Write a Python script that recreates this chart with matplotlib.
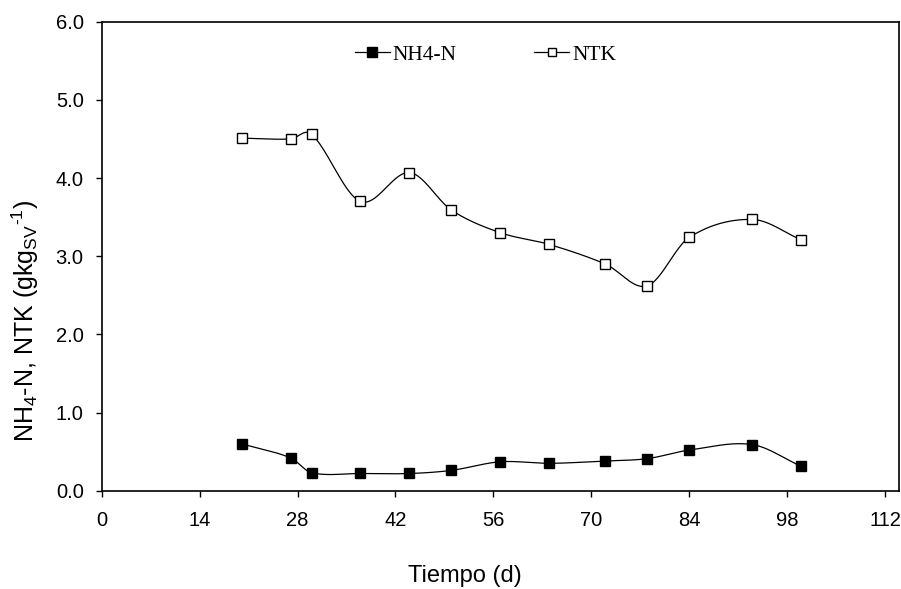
import numpy as np
import matplotlib.pyplot as plt

# Datos: tiempo de compostaje (d) y nitrógeno (g/kg SV)
tiempo = [20, 27, 30, 37, 44, 50, 57, 64, 72, 78, 84, 93, 100]
nh4_n = [0.60, 0.42, 0.23, 0.22, 0.22, 0.26, 0.37, 0.35, 0.38, 0.41, 0.52, 0.59, 0.31]
ntk = [4.51, 4.50, 4.56, 3.70, 4.07, 3.59, 3.30, 3.15, 2.90, 2.62, 3.24, 3.47, 3.21]

x_ticks = [0, 14, 28, 42, 56, 70, 84, 98, 112]
y_ticks = [0.0, 1.0, 2.0, 3.0, 4.0, 5.0, 6.0]


def curva_suave(x, y, pasos=40):
    """Spline de Catmull-Rom (Hermite) que pasa por cada punto medido."""
    x = np.asarray(x, float)
    y = np.asarray(y, float)
    m = np.empty_like(y)
    m[1:-1] = (y[2:] - y[:-2]) / (x[2:] - x[:-2])
    m[0] = (y[1] - y[0]) / (x[1] - x[0])
    m[-1] = (y[-1] - y[-2]) / (x[-1] - x[-2])
    xs, ys = [], []
    for i in range(len(x) - 1):
        h = x[i + 1] - x[i]
        t = np.linspace(0, 1, pasos)
        h00 = 2 * t**3 - 3 * t**2 + 1
        h10 = t**3 - 2 * t**2 + t
        h01 = -2 * t**3 + 3 * t**2
        h11 = t**3 - t**2
        xs.append(x[i] + t * h)
        ys.append(h00 * y[i] + h10 * h * m[i] + h01 * y[i + 1] + h11 * h * m[i + 1])
    return np.concatenate(xs), np.concatenate(ys)


plt.rcParams['font.family'] = ['Liberation Sans', 'DejaVu Sans']
plt.rcParams['mathtext.fontset'] = 'custom'
plt.rcParams['mathtext.rm'] = 'Liberation Sans'
plt.rcParams['mathtext.it'] = 'Liberation Sans'

fig = plt.figure(figsize=(9.01, 5.89), dpi=100)
ax = fig.add_axes([0.1129, 0.1669, 0.8849, 0.7963])

for datos, relleno in [(nh4_n, 'black'), (ntk, 'white')]:
    xs, ys = curva_suave(tiempo, datos)
    ax.plot(xs, ys, color='black', lw=0.9, zorder=2)
    ax.plot(tiempo, datos, ls='none', marker='s', ms=7, mfc=relleno,
            mec='black', mew=1.0, zorder=3)

# Leyenda con línea corta y marcador
h1, = ax.plot([], [], color='black', lw=0.9, marker='s', ms=7, mfc='black', mec='black')
h2, = ax.plot([], [], color='black', lw=0.9, marker='s', ms=6, mfc='white', mec='black')
ax.legend([h1, h2], ['NH4-N', 'NTK'], loc='center left', bbox_to_anchor=(0.318, 0.93),
          ncol=2, frameon=False, handlelength=1.6, handletextpad=0.15,
          columnspacing=3.6, borderpad=0, borderaxespad=0,
          prop={'family': 'Liberation Serif', 'size': 15.5})

ax.set_xlim(0, 114)
ax.set_ylim(0, 6)
ax.set_xticks(x_ticks)
ax.set_yticks(y_ticks)
ax.set_yticklabels([f'{v:.1f}' for v in y_ticks])
ax.tick_params(direction='out', width=1.0, labelsize=14.5, top=False, right=False)
ax.tick_params(axis='x', length=4.5, pad=10)
ax.tick_params(axis='y', length=4, pad=9)
for s in ax.spines.values():
    s.set_linewidth(1.2)

fig.text(465 / 901, 1 - 576 / 589, 'Tiempo (d)', ha='center', va='center', fontsize=17)
fig.text(25 / 901, 1 - 321 / 589, r'NH$_4$-N, NTK (gkg$_{\rm SV}$$^{\text{-}1}$)',
         ha='center', va='center', rotation=90, fontsize=18)

fig.savefig('out.png', dpi=100)
